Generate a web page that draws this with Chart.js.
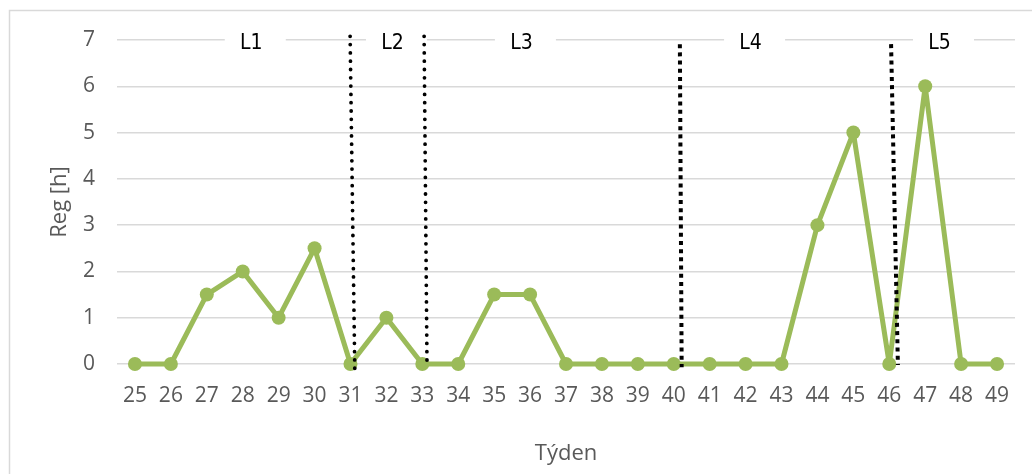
<!DOCTYPE html>
<html>
<head>
<meta charset="utf-8">
<script src="https://cdn.jsdelivr.net/npm/chart.js@4/dist/chart.umd.min.js"></script>
<style>
  html, body { margin: 0; padding: 0; background: #ffffff; }
  canvas { display: block; }
</style>
</head>
<body>
<canvas id="chart" width="1032" height="474"></canvas>
<script>
// Weekly regeneration hours
const weeks = [25, 26, 27, 28, 29, 30, 31, 32, 33, 34, 35, 36, 37, 38, 39, 40, 41, 42, 43, 44, 45, 46, 47, 48, 49];
const regHours = [0, 0, 1.5, 2, 1, 2.5, 0, 1, 0, 0, 1.5, 1.5, 0, 0, 0, 0, 0, 0, 0, 3, 5, 0, 6, 0, 0];
const yTicks = [0, 1, 2, 3, 4, 5, 6, 7];

// Phase names and where their captions sit (week, hours)
const phaseNames = ['L1', 'L2', 'L3', 'L4', 'L5'];
const phaseLabelWeeks = [28.35, 32.28, 35.87, 42.25, 47.51];
const phaseLabelLevel = 7;

// Phase boundaries: start and end of each dotted divider (week, hours)
const dividerWeeksTop = [30.99, 33.05, 40.17, 46.05];
const dividerWeeksBottom = [31.12, 33.13, 40.22, 46.24];
const dividerTop = [7.08, 7.08, 6.91, 6.91];
const dividerBottom = [-0.11, 0.04, -0.07, -0.02];

const GREEN = '#9BBB59';
const TEXT = '#595959';
const GRID = '#D9D9D9';

// round dots for the first two dividers, square dashes for the others
const dividerLook = [
  { borderWidth: 3.8, borderDash: [0, 8.3], borderCapStyle: 'round' },
  { borderWidth: 3.8, borderDash: [0, 8.3], borderCapStyle: 'round' },
  { borderWidth: 4, borderDash: [4, 4.2], borderCapStyle: 'butt' },
  { borderWidth: 4, borderDash: [4, 4.2], borderCapStyle: 'butt' }
];

const dividerSets = dividerWeeksTop.map((w, i) => Object.assign({
  label: 'divider' + i,
  data: [{ x: w, y: dividerTop[i] }, { x: dividerWeeksBottom[i], y: dividerBottom[i] }],
  borderColor: '#000000',
  pointRadius: 0,
  tension: 0,
  clip: false,
  order: 0
}, dividerLook[i]));

const frame = {
  id: 'frame',
  beforeDraw(chart) {
    const ctx = chart.ctx;
    ctx.save();
    ctx.fillStyle = '#ffffff';
    ctx.fillRect(0, 0, chart.width, chart.height);
    ctx.strokeStyle = '#D9D9D9';
    ctx.lineWidth = 1.5;
    ctx.strokeRect(9.5, 10.5, chart.width + 40, chart.height + 40);
    ctx.restore();
  }
};

const phaseCaptions = {
  id: 'phaseCaptions',
  beforeDatasetsDraw(chart) {
    const ctx = chart.ctx;
    const xs = chart.scales.x, ys = chart.scales.y;
    ctx.save();
    ctx.font = '21px "DejaVu Sans Condensed", "Liberation Sans Narrow", sans-serif';
    if ('fontStretch' in ctx) ctx.fontStretch = 'condensed';
    ctx.textAlign = 'center';
    ctx.textBaseline = 'middle';
    phaseNames.forEach((name, i) => {
      const cx = xs.getPixelForValue(phaseLabelWeeks[i]);
      const cy = ys.getPixelForValue(phaseLabelLevel);
      ctx.fillStyle = '#ffffff';
      ctx.fillRect(cx - 30.5, cy - 12, 61, 26);
      ctx.fillStyle = '#000000';
      ctx.fillText(name, cx - 4, cy + 4);
    });
    ctx.restore();
  }
};

new Chart(document.getElementById('chart'), {
  type: 'line',
  data: {
    datasets: [
      ...dividerSets,
      {
        label: 'Reg [h]',
        data: weeks.map((w, i) => ({ x: w, y: regHours[i] })),
        borderColor: GREEN,
        backgroundColor: GREEN,
        borderWidth: 5,
        borderJoinStyle: 'round',
        borderCapStyle: 'round',
        pointRadius: 7,
        pointBorderWidth: 0,
        pointBackgroundColor: GREEN,
        tension: 0,
        clip: false,
        order: 1
      }
    ]
  },
  options: {
    responsive: false,
    animation: false,
    devicePixelRatio: 1,
    layout: { padding: { top: 40, right: 17, left: 0, bottom: 0 } },
    plugins: {
      legend: { display: false },
      tooltip: { enabled: false }
    },
    scales: {
      x: {
        type: 'linear',
        min: weeks[0] - 0.5,
        max: weeks[weeks.length - 1] + 0.5,
        afterBuildTicks(scale) { scale.ticks = weeks.map(v => ({ value: v })); },
        afterFit(scale) { scale.height = 110; },
        grid: { display: false, drawTicks: false },
        border: { display: false },
        ticks: {
          autoSkip: false,
          maxRotation: 0,
          padding: 19,
          color: TEXT,
          font: { family: '"Open Sans", sans-serif', size: 21 }
        },
        title: {
          display: true,
          text: 'Týden',
          color: TEXT,
          font: { family: '"Open Sans", sans-serif', size: 22 },
          padding: { top: 0, bottom: 7 }
        }
      },
      y: {
        min: 0,
        max: 7,
        afterBuildTicks(scale) { scale.ticks = yTicks.map(v => ({ value: v })); },
        afterFit(scale) { scale.width = 117; },
        grid: { color: GRID, lineWidth: 1.5, drawTicks: false },
        border: { display: false },
        ticks: {
          padding: 22,
          color: TEXT,
          font: { family: '"Open Sans", sans-serif', size: 21 }
        },
        title: {
          display: true,
          text: 'Reg [h]',
          color: TEXT,
          font: { family: '"Open Sans", sans-serif', size: 22 },
          padding: { top: 47, bottom: 0 }
        }
      }
    }
  },
  plugins: [frame, phaseCaptions]
});
</script>
</body>
</html>
